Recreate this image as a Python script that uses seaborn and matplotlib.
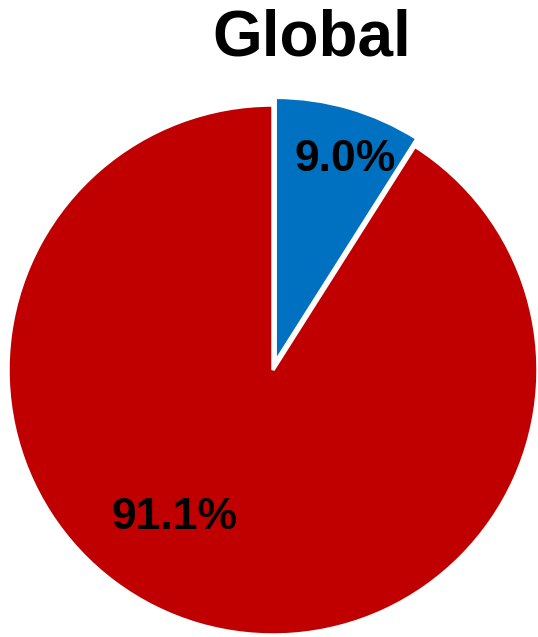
import numpy as np
import matplotlib
matplotlib.use("Agg")
import matplotlib.pyplot as plt
import seaborn as sns

# Share of the global total, in percent
categories = ["Share", "Rest"]
values = [9.0, 91.1]
labels = ["9.0%", "91.1%"]
colors = ["#0070C0", "#C00000"]

sns.set_theme(style="white")
plt.rcParams["font.family"] = ["Liberation Sans", "DejaVu Sans"]

W, H = 538, 637
fig = plt.figure(figsize=(W / 100, H / 100), dpi=100)
fig.patch.set_facecolor("white")

# pie radius 265 px, centre at (273, 370) from top-left
r_px = 265
cx, cy = 273, H - 370
ax = fig.add_axes([(cx - r_px) / W, (cy - r_px) / H, 2 * r_px / W, 2 * r_px / H])

wedges, _ = ax.pie(
    values,
    colors=colors,
    startangle=90,
    counterclock=False,
    explode=[0.03, 0.0],
    wedgeprops=dict(edgecolor="white", linewidth=2.5),
)
for w in wedges:
    w.set_clip_on(False)
ax.set_xlim(-1, 1)
ax.set_ylim(-1, 1)
ax.set_aspect("equal")
ax.axis("off")

# label placement (angle in degrees, distance from centre)
label_angles = [71.0, 236.3]
label_dist = [0.84, 0.67]
for txt, a, d in zip(labels, label_angles, label_dist):
    t = np.deg2rad(a)
    ax.text(d * np.cos(t), d * np.sin(t), txt, ha="center", va="center",
            fontsize=32, fontweight="bold", color="black")

fig.text(312 / W, 1 - 39 / H, "Global", ha="center", va="center",
         fontsize=46, fontweight="bold", color="black")

fig.savefig("out.png", dpi=100)
